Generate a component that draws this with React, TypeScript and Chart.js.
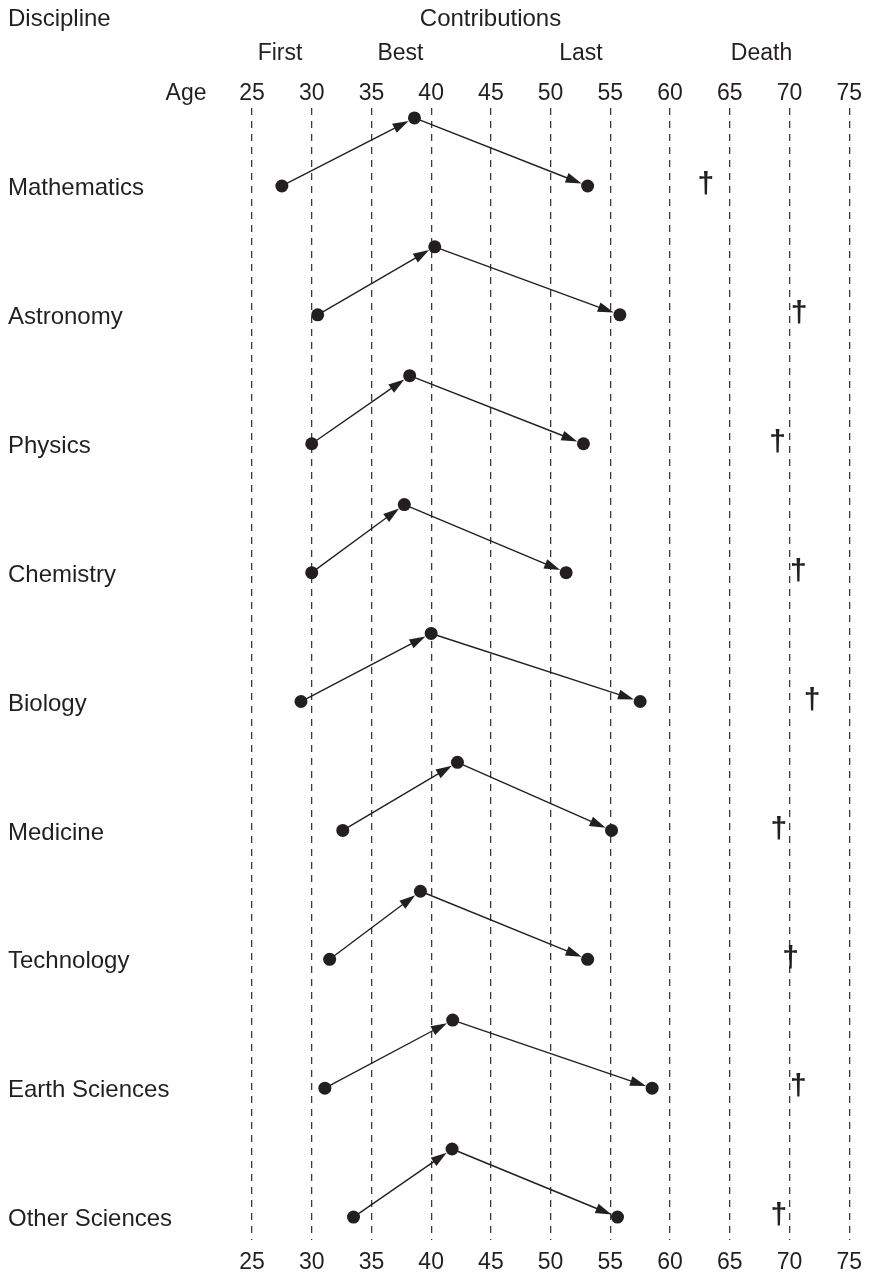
import { useEffect, useRef } from 'react';
import { Chart, registerables } from 'chart.js';

Chart.register(...registerables);

const disciplines = [
  'Mathematics',
  'Astronomy',
  'Physics',
  'Chemistry',
  'Biology',
  'Medicine',
  'Technology',
  'Earth Sciences',
  'Other Sciences',
];
const firstAge = [27.5, 30.5, 30.0, 30.0, 29.1, 32.6, 31.5, 31.1, 33.5];
const bestAge = [38.6, 40.3, 38.2, 37.75, 40.0, 42.2, 39.1, 41.8, 41.75];
const lastAge = [53.1, 55.8, 52.75, 51.3, 57.5, 55.1, 53.1, 58.5, 55.6];
const deathAge = [63.0, 70.8, 69.0, 70.75, 71.9, 69.1, 70.1, 70.75, 69.1];
const ageMin = 25;
const ageMax = 75;
const ageStep = 5;
const stageLabels = ['First', 'Best', 'Last', 'Death'];

const INK = '#231f20';
const FONT = "'Liberation Sans', Arial, Helvetica, sans-serif";
const BEST_RISE = 0.528;

export default function App() {
  const ref = useRef<HTMLCanvasElement>(null);

  useEffect(() => {
    if (!ref.current) return;
    const points: { x: number; y: number }[] = [];
    disciplines.forEach((_, i) => {
      points.push({ x: firstAge[i], y: i });
      points.push({ x: bestAge[i], y: i - BEST_RISE });
      points.push({ x: lastAge[i], y: i });
    });

    const arrowPlugin = {
      id: 'arrows',
      beforeDatasetsDraw(chart: any) {
        const { ctx } = chart;
        const xs = chart.scales.x;
        const ys = chart.scales.y;
        ctx.save();
        ctx.strokeStyle = INK;
        ctx.fillStyle = INK;
        ctx.lineWidth = 1.4;
        const arrow = (x0: number, y0: number, x1: number, y1: number) => {
          const dx = x1 - x0;
          const dy = y1 - y0;
          const len = Math.hypot(dx, dy);
          const ux = dx / len;
          const uy = dy / len;
          const r = 6.5;
          const hl = 16;
          const hw = 5;
          const tx = x1 - ux * r;
          const ty = y1 - uy * r;
          const bx = tx - ux * hl;
          const by = ty - uy * hl;
          ctx.beginPath();
          ctx.moveTo(x0, y0);
          ctx.lineTo(bx + ux * 2, by + uy * 2);
          ctx.stroke();
          ctx.beginPath();
          ctx.moveTo(tx, ty);
          ctx.lineTo(bx - uy * hw, by + ux * hw);
          ctx.lineTo(bx + uy * hw, by - ux * hw);
          ctx.closePath();
          ctx.fill();
        };
        disciplines.forEach((_, i) => {
          const fx = xs.getPixelForValue(firstAge[i]);
          const fy = ys.getPixelForValue(i);
          const bx = xs.getPixelForValue(bestAge[i]);
          const by = ys.getPixelForValue(i - BEST_RISE);
          const lx = xs.getPixelForValue(lastAge[i]);
          const ly = ys.getPixelForValue(i);
          arrow(fx, fy, bx, by);
          arrow(bx, by, lx, ly);
        });
        ctx.restore();
      },
      afterDatasetsDraw(chart: any) {
        const { ctx } = chart;
        const xs = chart.scales.x;
        const ys = chart.scales.y;
        ctx.save();
        ctx.fillStyle = INK;
        ctx.font = `bold 30px ${FONT}`;
        ctx.textAlign = 'center';
        ctx.textBaseline = 'middle';
        disciplines.forEach((_, i) => {
          ctx.fillText('†', xs.getPixelForValue(deathAge[i]), ys.getPixelForValue(i) - 1);
        });
        ctx.restore();
      },
      afterDraw(chart: any) {
        const { ctx } = chart;
        ctx.save();
        ctx.fillStyle = INK;
        ctx.font = `24px ${FONT}`;
        ctx.textBaseline = 'middle';
        ctx.textAlign = 'left';
        ctx.fillText('Discipline', 8, 19);
        ctx.textAlign = 'center';
        ctx.fillText('Contributions', 490.5, 19);
        ctx.font = `23px ${FONT}`;
        const stageX = [280, 400.5, 581, 761.5];
        stageLabels.forEach((s, i) => ctx.fillText(s, stageX[i], 54));
        ctx.fillText('Age', 186, 94);
        ctx.restore();
      },
    };

    const tickFont = { family: FONT, size: 23, lineHeight: 1 };
    const labelFont = { family: FONT, size: 24, lineHeight: 1 };

    const chart = new Chart(ref.current, {
      type: 'scatter',
      data: {
        datasets: [
          {
            data: points,
            pointRadius: 6.5,
            pointHoverRadius: 6.5,
            backgroundColor: INK,
            borderWidth: 0,
            xAxisID: 'x',
            yAxisID: 'y',
          },
        ],
      },
      options: {
        animation: false,
        responsive: false,
        events: [],
        layout: { padding: { left: 8, right: 21, top: 68, bottom: 0 } },
        plugins: {
          legend: { display: false },
          tooltip: { enabled: false },
        },
        scales: {
          x: {
            type: 'linear',
            position: 'bottom',
            min: ageMin,
            max: ageMax,
            ticks: { stepSize: ageStep, color: INK, font: tickFont, padding: 11, maxRotation: 0 },
            grid: { display: true, drawTicks: false, color: '#3a3a3a', lineWidth: 1.3 },
            border: { display: false, dash: [7, 6] },
            afterFit: (axis: any) => {
              axis.height = 35;
            },
          },
          x2: {
            type: 'linear',
            position: 'top',
            min: ageMin,
            max: ageMax,
            ticks: { stepSize: ageStep, color: INK, font: tickFont, padding: 2.5, maxRotation: 0 },
            grid: { display: false, drawTicks: false },
            border: { display: false },
            afterFit: (axis: any) => {
              axis.height = 40;
            },
          },
          y: {
            type: 'linear',
            reverse: true,
            min: -0.605,
            max: 8.178,
            afterBuildTicks: (axis: any) => {
              axis.ticks = disciplines.map((_, i) => ({ value: i }));
            },
            ticks: {
              autoSkip: false,
              color: INK,
              font: labelFont,
              crossAlign: 'far',
              padding: 0,
              labelOffset: 2.5,
              callback: (v: any) => disciplines[v as number] ?? '',
            },
            grid: { display: false, drawTicks: false },
            border: { display: false },
            afterFit: (axis: any) => {
              axis.width = 244;
            },
          },
        },
      } as any,
      plugins: [arrowPlugin],
    });
    return () => chart.destroy();
  }, []);

  return (
    <div style={{ position: 'absolute', left: 0, top: 0, width: 873, height: 1275, background: '#fff' }}>
      <canvas ref={ref} width={873} height={1275} style={{ display: 'block' }} />
    </div>
  );
}
